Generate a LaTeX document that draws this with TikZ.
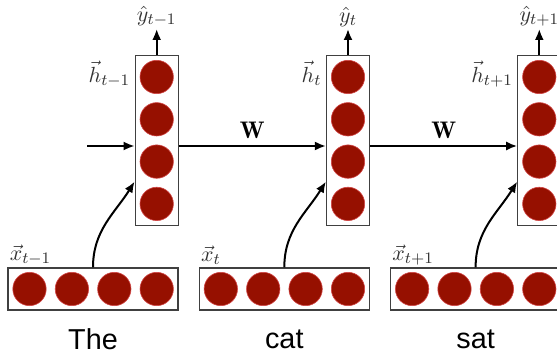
\documentclass[tikz,border=0pt]{standalone}
\usepackage{fontspec}
\newfontfamily\wordfont{Liberation Sans}
\usetikzlibrary{arrows.meta, positioning}

\begin{document}
\begin{tikzpicture}[x=0.5pt, y=-0.5pt,
   unit/.style={circle, draw={rgb,255:red,210;green,70;blue,70}, line width=0.3pt,
                fill={rgb,255:red,150;green,16;blue,0}, minimum size=16.7pt, inner sep=0pt},
   vbox/.style={draw=black!75, line width=0.6pt, minimum width=21.5pt, minimum height=85pt, inner sep=0pt},
   hbox/.style={draw=black!75, line width=0.6pt, minimum width=85pt, minimum height=21pt, inner sep=0pt},
   lbl/.style={text=black!80, inner sep=1pt, font=\fontsize{11}{13}\selectfont},
   arr/.style={-{Latex[length=5.5pt,width=4.5pt]}, line width=1pt}]
  \useasboundingbox (0,0) rectangle (557,353);
  \clip (0,0) rectangle (557,353);
  \foreach \i/\sub/\word in {0/{t-1}/The, 1/t/cat, 2/{t+1}/sat} {
    \pgfmathsetmacro\cx{156.7+191.3*\i}
    \pgfmathsetmacro\bx{93+191.3*\i}
    % hidden layer
    \node[vbox] (h\i) at (\cx,140.4) {};
    \foreach \k in {0,...,3}
      \node[unit] (h\i-\k) at (\cx,77+42.3*\k) {};
    \node[lbl, anchor=north east] (hl\i) at ([xshift=-1pt, yshift=-2pt]h\i.north west) {$\vec{h}_{\sub}$};
    \node[lbl, anchor=south] (y\i) at (\cx,29) {$\hat{y}_{\sub}$};
    \draw[arr] (h\i.north) -- (y\i.south);
    % input layer
    \node[hbox] (x\i) at (\bx,289) {};
    \foreach \k in {0,...,3}
      \node[unit] (x\i-\k) at (\bx-63.5+42.4*\k,289) {};
    \node[lbl, anchor=south west] (xl\i) at (x\i.north west) {$\vec{x}_{\sub}$};
    \draw[arr] (x\i.north) to[out=90, in=238] ([yshift=-20.6pt]h\i.west);
    \node[font=\wordfont\fontsize{14.4}{17}\selectfont, inner sep=0pt] (word\i) at (\bx,339) {\word};
  }
  \coordinate (in) at (87,146);
  \draw[arr] (in) -- ([yshift=-2.8pt]h0.west);
  \foreach \i/\j in {0/1, 1/2}
    \draw[arr] ([yshift=-2.8pt]h\i.east) -- ([yshift=-2.8pt]h\j.west)
      node[midway, above, inner sep=3pt, font=\fontsize{12}{14}\selectfont] (wt\i) {$\mathbf{W}$};
\end{tikzpicture}
\end{document}
